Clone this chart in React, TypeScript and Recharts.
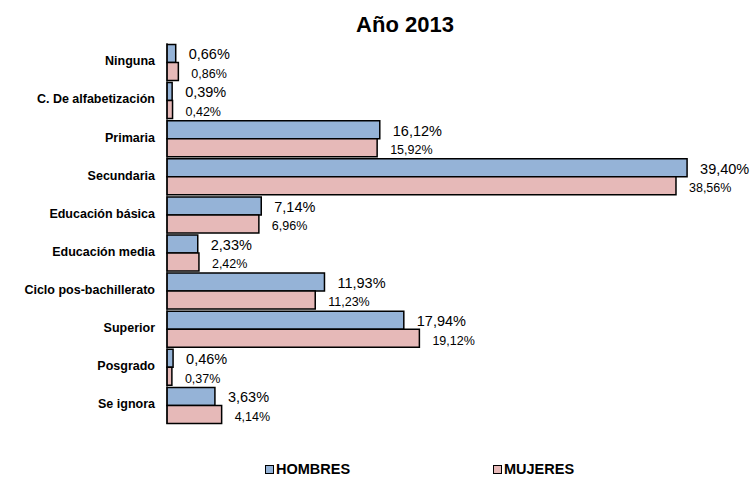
import React from "react";
import { BarChart, Bar, XAxis, YAxis, LabelList } from "recharts";

const categories = [
  "Ninguna",
  "C. De alfabetización",
  "Primaria",
  "Secundaria",
  "Educación básica",
  "Educación media",
  "Ciclo pos-bachillerato",
  "Superior",
  "Posgrado",
  "Se ignora",
];
const hombres = [0.66, 0.39, 16.12, 39.4, 7.14, 2.33, 11.93, 17.94, 0.46, 3.63];
const mujeres = [0.86, 0.42, 15.92, 38.56, 6.96, 2.42, 11.23, 19.12, 0.37, 4.14];
const seriesNames = ["HOMBRES", "MUJERES"];

const data = categories.map((c, i) => ({ name: c, hombres: hombres[i], mujeres: mujeres[i] }));

const BLUE = "#95B3D7";
const PINK = "#E6B9B8";
const FONT = "'Liberation Sans', Arial, sans-serif";

const fmt = (v: number) => v.toFixed(2).replace(".", ",") + "%";

const makeLabel = (dx: number, size: number, dy: number) => (props: any) => {
  const { x, y, width, height, value } = props;
  return (
    <text
      x={Number(x) + Number(width) + dx}
      y={Number(y) + Number(height) / 2 + dy}
      fontSize={size}
      fontFamily={FONT}
      fill="#000"
      dominantBaseline="middle"
    >
      {fmt(Number(value))}
    </text>
  );
};

const YTick = (props: any) => {
  const { x, y, payload } = props;
  return (
    <text
      x={x - 4}
      y={y}
      textAnchor="end"
      dominantBaseline="middle"
      fontSize={12.5}
      fontWeight="bold"
      fontFamily={FONT}
      fill="#000"
    >
      {payload.value}
    </text>
  );
};

const legendItem = (left: number, color: string, label: string) => (
  <div style={{ position: "absolute", left, top: 461, display: "flex", alignItems: "center" }}>
    <span
      style={{ display: "inline-block", width: 7, height: 7, background: color, border: "1px solid #000", marginRight: 2 }}
    />
    <span style={{ fontFamily: FONT, fontSize: 14.5, fontWeight: "bold", lineHeight: "17px" }}>{label}</span>
  </div>
);

export default function App() {
  return (
    <div style={{ position: "absolute", left: 0, top: 0, width: 751, height: 479, background: "#fff" }}>
      <div
        style={{
          position: "absolute",
          left: 0,
          top: 12,
          width: 810,
          textAlign: "center",
          fontFamily: FONT,
          fontWeight: "bold",
          fontSize: 22,
          color: "#000",
        }}
      >
        Año 2013
      </div>
      <BarChart
        width={751}
        height={479}
        data={data}
        layout="vertical"
        margin={{ top: 43, right: 56, bottom: 55, left: 0 }}
        barGap={0}
        barCategoryGap="4%"
      >
        <XAxis type="number" domain={[0, 40]} hide />
        <YAxis
          type="category"
          dataKey="name"
          width={167}
          axisLine={{ stroke: "#000", strokeWidth: 1 }}
          tickLine={false}
          tick={<YTick />}
          interval={0}
        />
        <Bar dataKey="hombres" name={seriesNames[0]} fill={BLUE} stroke="#000" strokeWidth={1.5} isAnimationActive={false}>
          <LabelList dataKey="hombres" content={makeLabel(13, 14.5, 2)} />
        </Bar>
        <Bar dataKey="mujeres" name={seriesNames[1]} fill={PINK} stroke="#000" strokeWidth={1.5} isAnimationActive={false}>
          <LabelList dataKey="mujeres" content={makeLabel(13, 12.5, 3)} />
        </Bar>
      </BarChart>
      {legendItem(265, BLUE, seriesNames[0])}
      {legendItem(493, PINK, seriesNames[1])}
    </div>
  );
}
